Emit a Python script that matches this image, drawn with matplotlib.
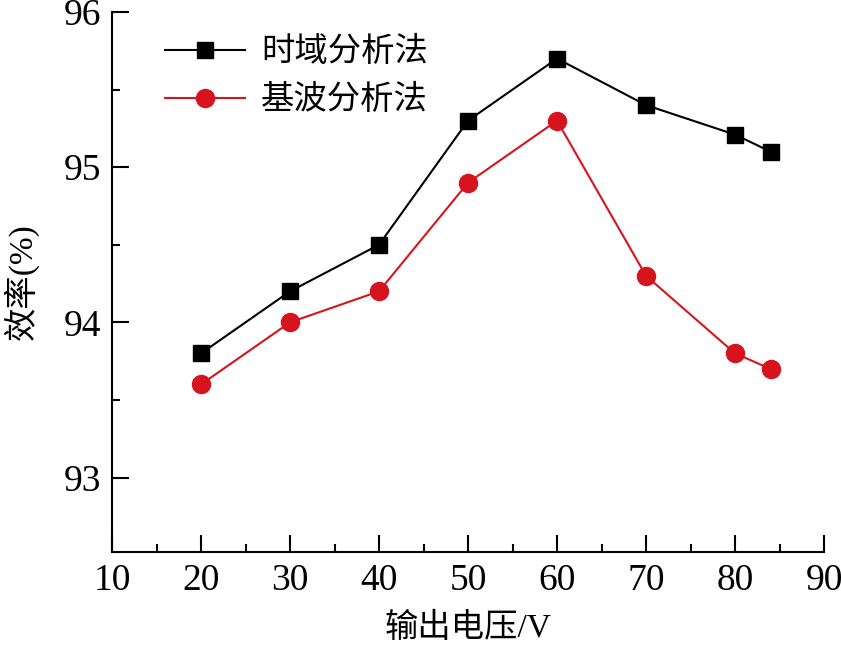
import matplotlib
matplotlib.use("Agg")
import matplotlib.pyplot as plt
from matplotlib.ticker import MultipleLocator

plt.rcParams['font.family'] = ['Liberation Serif', 'Noto Sans CJK SC']
plt.rcParams['mathtext.fontset'] = 'stix'

# data
voltage = [20, 30, 40, 50, 60, 70, 80, 84]
eff_time = [93.8, 94.2, 94.5, 95.3, 95.7, 95.4, 95.21, 95.1]
eff_fha = [93.6, 94.0, 94.2, 94.9, 95.3, 94.3, 93.8, 93.7]
labels = ['时域分析法', '基波分析法']

fig = plt.figure(figsize=(8.41, 6.46), dpi=100)
ax = fig.add_axes([0.1332, 0.1455, 0.8466, 0.8359])

ax.plot(voltage, eff_time, color='black', marker='s', markersize=12,
        linewidth=1.5, label=labels[0])
ax.plot(voltage, eff_fha, color='#d7141e', marker='o', markersize=13,
        linewidth=1.5, label=labels[1])

ax.set_xlim(10, 90)
ax.set_ylim(92.52, 96)
ax.xaxis.set_major_locator(MultipleLocator(10))
ax.xaxis.set_minor_locator(MultipleLocator(5))
ax.yaxis.set_major_locator(MultipleLocator(1))
ax.yaxis.set_minor_locator(MultipleLocator(0.5))

for s in ['top', 'right']:
    ax.spines[s].set_visible(False)
for s in ['left', 'bottom']:
    ax.spines[s].set_linewidth(1.5)

ax.tick_params(which='both', direction='in', width=1.5, labelsize=27, pad=8)
ax.tick_params(which='major', length=12)
ax.tick_params(which='minor', length=6)

ax.set_xlabel('输出电压/V', fontsize=24, labelpad=11)
ax.set_ylabel('效率(%)', fontsize=24, labelpad=18)

leg = ax.legend(loc='upper left', bbox_to_anchor=(0.055, 0.978), frameon=False,
                fontsize=24, handlelength=2.4, handletextpad=0.5,
                labelspacing=0.5, borderaxespad=0)

fig.savefig('out.png', dpi=100)
